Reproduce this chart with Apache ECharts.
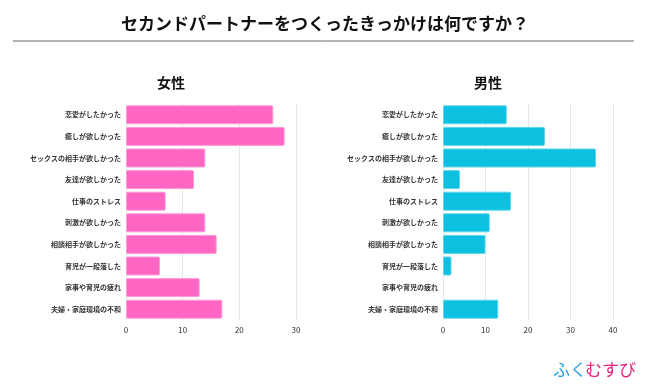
<!DOCTYPE html>
<html><head><meta charset="utf-8">
<script src="https://cdn.jsdelivr.net/npm/echarts@6/dist/echarts.min.js"></script>
<style>html,body{margin:0;padding:0;background:#fff}#c{width:650px;height:390px}</style>
</head><body><div id="c"></div>
<script>
const categories = ["恋愛がしたかった","癒しが欲しかった","セックスの相手が欲しかった","友達が欲しかった","仕事のストレス","刺激が欲しかった","相談相手が欲しかった","育児が一段落した","家事や育児の疲れ","夫婦・家庭環境の不和"];
const femaleValues = [26,28,14,12,7,14,16,6,13,17];
const maleValues = [15,24,36,4,16,11,10,2,0,13];
const femaleTicks = [0,10,20,30];
const maleTicks = [0,10,20,30,40];

const font = '"Noto Sans CJK JP","Noto Sans",sans-serif';
const chart = echarts.init(document.getElementById('c'));
function xAx(idx, ticks){
  return {gridIndex: idx, type:'value', min: ticks[0], max: ticks[ticks.length-1], interval: 10,
    axisLine:{show:false}, axisTick:{show:false},
    axisLabel:{fontSize:8, color:'#333', fontFamily:font, margin:6},
    splitLine:{show:true, lineStyle:{color:'#e6e6e6', width:1}}};
}
function yAx(idx){
  return {gridIndex: idx, type:'category', data: categories, inverse:true,
    axisLine:{show:false}, axisTick:{show:false},
    axisLabel:{fontSize:7, color:'#333', fontWeight:'bold', fontFamily:font, margin:5}};
}
function items(vals){
  return vals.map(v => v === 0 ? {value:v, itemStyle:{borderWidth:0}} : v);
}
chart.setOption({
  animation:false,
  title:[
    {text:'セカンドパートナーをつくったきっかけは何ですか？', left:'center', top:10,
     textStyle:{fontSize:17, fontWeight:'bold', color:'#111', fontFamily:font}},
    {text:'女性', left:166, top:71, textAlign:'center', textStyle:{fontSize:14, fontWeight:'bold', color:'#111', fontFamily:font}},
    {text:'男性', left:483, top:71, textAlign:'center', textStyle:{fontSize:14, fontWeight:'bold', color:'#111', fontFamily:font}}
  ],
  graphic:[
    {type:'line', shape:{x1:13,y1:41,x2:634,y2:41}, style:{stroke:'#666', lineWidth:1}},
    {type:'text', left:553, top:361, style:{text:'ふく', fontSize:17, fill:'#1e9fe3', fontFamily:font}},
    {type:'text', left:585, top:361, style:{text:'むすび', fontSize:17, fill:'#e3237e', fontFamily:font}}
  ],
  grid:[
    {left:126, right:354, top:104, bottom:70},
    {left:443, right:37, top:104, bottom:70}
  ],
  xAxis:[xAx(0, femaleTicks), xAx(1, maleTicks)],
  yAxis:[yAx(0), yAx(1)],
  series:[
    {type:'bar', xAxisIndex:0, yAxisIndex:0, data:items(femaleValues), barCategoryGap:'12%',
     itemStyle:{color:'#ff66c4', borderColor:'#ff9bd8', borderWidth:1, borderRadius:1}},
    {type:'bar', xAxisIndex:1, yAxisIndex:1, data:items(maleValues), barCategoryGap:'12%',
     itemStyle:{color:'#0cc0df', borderColor:'#5fd6ec', borderWidth:1, borderRadius:1}}
  ]
});
</script></body></html>
